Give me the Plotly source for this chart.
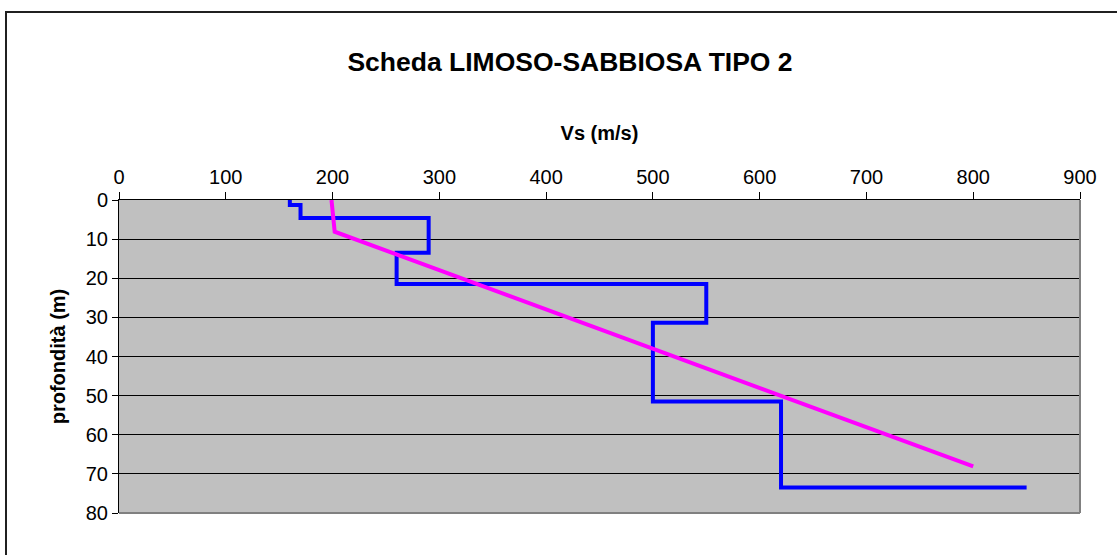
import plotly.graph_objects as go

# Data
blue_vs = [160, 160, 170, 170, 290, 290, 260, 260, 550, 550, 500, 500, 620, 620, 850]
blue_depth = [0, 1.3, 1.3, 4.6, 4.6, 13.5, 13.5, 21.5, 21.5, 31.4, 31.4, 51.5, 51.5, 73.5, 73.5]

pink_vs = [199, 202, 800]
pink_depth = [0, 8.1, 68.1]

x_ticks = [0, 100, 200, 300, 400, 500, 600, 700, 800, 900]
y_ticks = [0, 10, 20, 30, 40, 50, 60, 70, 80]

FONT = "Liberation Sans, Arial, sans-serif"

fig = go.Figure()
fig.add_trace(go.Scatter(x=blue_vs, y=blue_depth, mode="lines",
                         line=dict(color="#0000FF", width=4), hoverinfo="skip"))
fig.add_trace(go.Scatter(x=pink_vs, y=pink_depth, mode="lines",
                         line=dict(color="#FF00FF", width=4), hoverinfo="skip"))

W, H = 1117, 555
L, R, T, B = 119, 37, 200, 42
pw = W - L - R
ph = H - T - B

def px_x(p):
    return (p - L) / pw

def px_y(p):
    return (H - B - p) / ph

fig.update_layout(
    width=W, height=H,
    margin=dict(l=L, r=R, t=T, b=B, pad=0),
    paper_bgcolor="white",
    plot_bgcolor="#C0C0C0",
    showlegend=False,
    font=dict(family=FONT, color="black"),
    title=dict(text="<b>Scheda LIMOSO-SABBIOSA TIPO 2</b>",
               font=dict(size=26.5, family=FONT, color="black"),
               x=570 / W, xanchor="center", xref="container",
               y=1 - 62 / H, yanchor="middle", yref="container"),
    xaxis=dict(range=[0, 900], side="top", tickvals=x_ticks,
               ticks="outside", ticklen=7, tickcolor="black", tickwidth=1,
               showline=True, linecolor="black", linewidth=1,
               showgrid=False, zeroline=False,
               tickfont=dict(size=20, family=FONT, color="black"),
               title=dict(text="<b>Vs (m/s)</b>", font=dict(size=20, family=FONT, color="black"),
                          standoff=20)),
    yaxis=dict(range=[80, 0], tickvals=y_ticks,
               ticks="outside", ticklen=6, tickcolor="black", tickwidth=1,
               showline=True, linecolor="black", linewidth=1,
               showgrid=True, gridcolor="black", gridwidth=1,
               zeroline=False,
               tickfont=dict(size=20, family=FONT, color="black"),
               title=dict(text="<b>profondità (m)</b>", font=dict(size=20, family=FONT, color="black"),
                          standoff=14)),
)

# gray right and bottom borders of the plot area
fig.add_shape(type="line", xref="paper", yref="paper", x0=1, x1=1, y0=0, y1=1,
              line=dict(color="#808080", width=2), layer="above")
fig.add_shape(type="line", xref="paper", yref="paper", x0=0, x1=1, y0=0, y1=0,
              line=dict(color="#808080", width=2), layer="above")

# outer chart border (extends beyond the right and bottom edges)
fig.add_shape(type="rect", xref="paper", yref="paper",
              x0=px_x(6), x1=px_x(W + 20), y0=px_y(H + 20), y1=px_y(12),
              line=dict(color="#202020", width=2), fillcolor="rgba(0,0,0,0)", layer="below")

fig.write_html("out.html",
               config={"displayModeBar": False, "staticPlot": True},
               post_script="document.body.style.margin='0';document.body.style.overflow='hidden';")
